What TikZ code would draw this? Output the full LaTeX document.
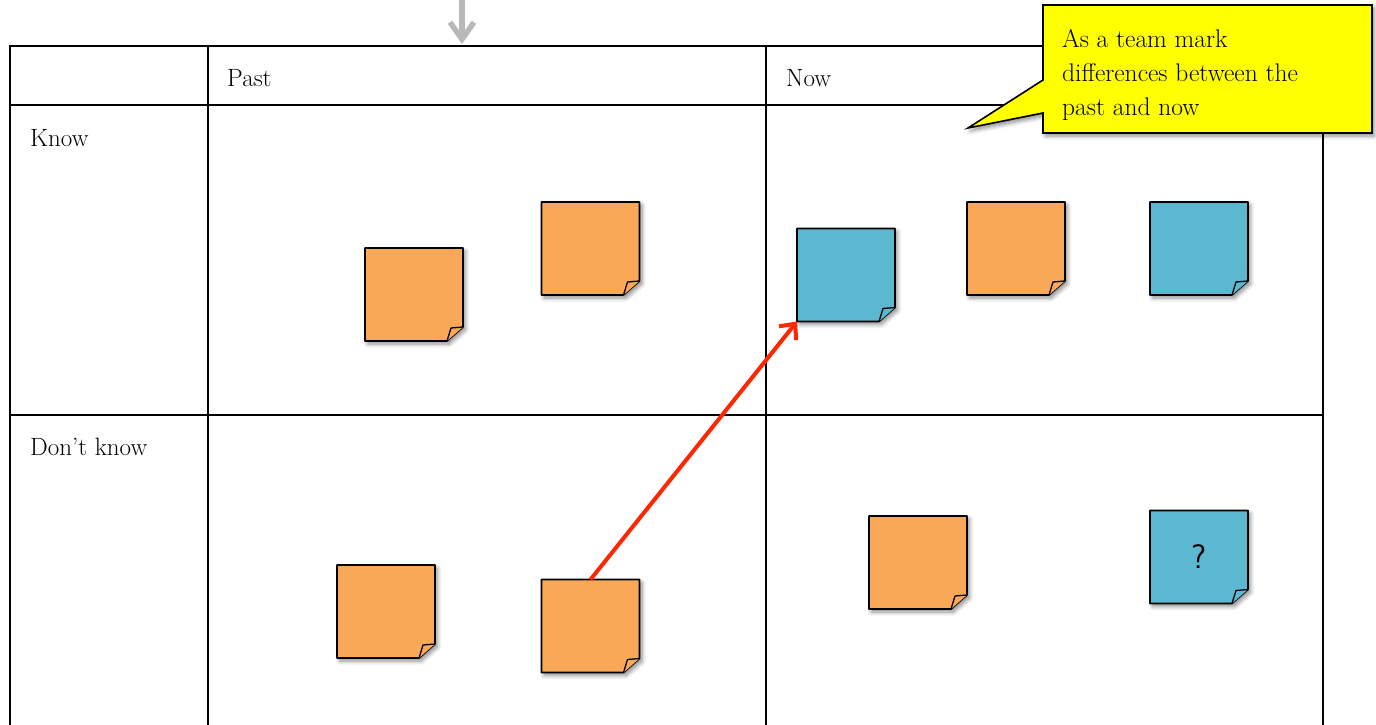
\documentclass[tikz,border=0pt]{standalone}
\usetikzlibrary{shadows,shadows.blur,arrows.meta}
\definecolor{noteorange}{RGB}{249,168,88}
\definecolor{noteblue}{RGB}{91,184,208}
\definecolor{arrowred}{RGB}{255,38,0}
\definecolor{calloutyellow}{RGB}{255,255,0}
\definecolor{arrowgray}{RGB}{185,185,185}
\tikzset{
  grid/.style={line width=2pt, black},
  lbl/.style={anchor=base west, inner sep=0pt, font=\fontsize{25}{30}\selectfont},
  notebox/.style={minimum width=98pt, minimum height=93pt, inner sep=0pt, outer sep=0pt, draw=none},
  softshadow/.style={blur shadow={shadow xshift=2.5pt, shadow yshift=-3pt, shadow blur radius=4pt, shadow blur steps=6, shadow opacity=45}},
  noteshape/.style={draw=black, line width=1.6pt, line join=round, softshadow},
  foldshape/.style={draw=black, line width=1.3pt, line join=round},
  redarrow/.style={draw=arrowred, line width=4pt, -{Straight Barb[length=12pt,width=22pt,line width=4pt]}},
  grayarrow/.style={draw=arrowgray, line width=5.5pt, -{Straight Barb[length=17pt,width=24pt,line width=5.5pt]}},
}
\newcommand\stickynote[4]{%
  \node[notebox] (#1) at (#2) {};
  \path[noteshape, fill=#3] (#1.north west) -- (#1.north east) -- ([yshift=14pt]#1.south east)
     -- ([xshift=-16pt]#1.south east) -- (#1.south west) -- cycle;
  \path[foldshape, fill=#3] ([yshift=14pt]#1.south east) -- ([xshift=-12pt,yshift=13pt]#1.south east)
     -- ([xshift=-16pt]#1.south east);
  \node[notebox] at (#1) {#4};
}
\begin{document}
\begin{tikzpicture}[x=1pt,y=-1pt]
\useasboundingbox (0,0) rectangle (1376,725);
\clip (0,0) rectangle (1376,725);
% table
\draw[grid] (10,760) -- (10,46) -- (1323,46) -- (1323,760);
\draw[grid] (10,105) -- (1323,105);
\draw[grid] (10,415) -- (1323,415);
\draw[grid] (208,46) -- (208,760);
\draw[grid] (766,46) -- (766,760);
% labels
\node[lbl] (past) at (227,86) {Past};
\node[lbl] (now) at (786,86) {Now};
\node[lbl] (know) at (30,146) {Know};
\node[lbl] (dontknow) at (30,455) {Don’t know};
% top arrow
\coordinate (topstart) at (462,-2);
\coordinate (tabletop) at (462,44);
\draw[grayarrow] (topstart) -- (tabletop);
% sticky notes
\stickynote{n1}{414,294.5}{noteorange}{}
\stickynote{n2}{590.5,248.5}{noteorange}{}
\stickynote{n3}{846,275}{noteblue}{}
\stickynote{n4}{1016,248.5}{noteorange}{}
\stickynote{n5}{1199,248.5}{noteblue}{}
\stickynote{n6}{386,611.5}{noteorange}{}
\stickynote{n7}{590.5,626}{noteorange}{}
\stickynote{n8}{918,562.5}{noteorange}{}
\stickynote{n9}{1199,557}{noteblue}{\sffamily\fontsize{34}{34}\selectfont ?}
% red arrow
\draw[redarrow] (n7.north) -- (n3.south west);
% callout
\node[minimum width=329pt, minimum height=128pt, inner sep=0pt, outer sep=0pt, anchor=north west] (callout) at (1043,5) {};
\path[draw=black, line width=1.6pt, line join=miter, fill=calloutyellow, softshadow]
  (callout.north west) -- (callout.north east) -- (callout.south east) -- (callout.south west)
  -- ([yshift=20pt]callout.south west) -- ([xshift=-75pt, yshift=5pt]callout.south west)
  -- ([yshift=53pt]callout.south west) -- cycle;
\node[anchor=north west, inner sep=0pt, align=left, font=\fontsize{25.5}{34}\selectfont] (ctext) at (1062,29.5)
  {As a team mark\\differences between the\\past and now};
\end{tikzpicture}
\end{document}
